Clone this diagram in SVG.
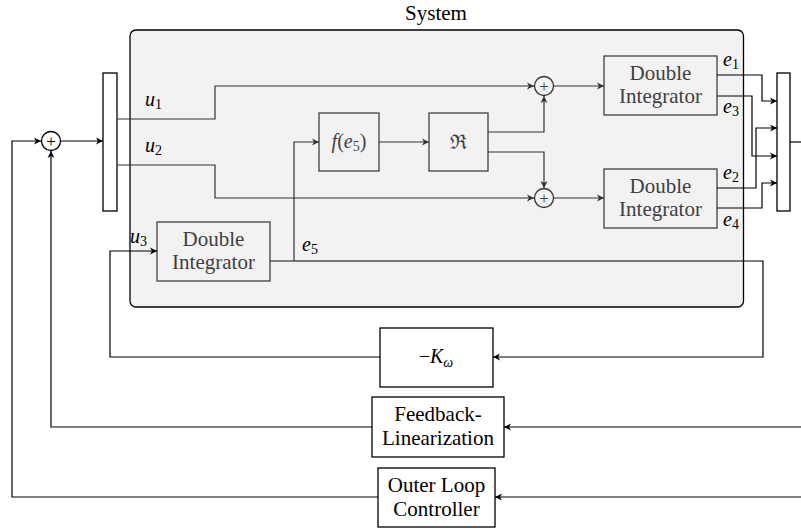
<svg xmlns="http://www.w3.org/2000/svg" width="801" height="532" viewBox="0 0 801 532">
<style>
.t{font-family:"Liberation Serif",serif;font-size:21px;fill:#000;text-anchor:middle}
.ti{fill:#404040}
.m{font-family:"Liberation Serif",serif;font-size:20px;font-style:italic;fill:#000}
.mi{fill:#404040}
.s{font-size:14px;font-style:normal}
.box{fill:#fff;stroke:#000;stroke-width:1.3}
.ibox{fill:#f2f2f2;stroke:#404040;stroke-width:1.3}
.w{fill:none;stroke:#000;stroke-width:1.2}
.wi{fill:none;stroke:#333;stroke-width:1.2}
</style>
<defs>
<marker id="a" markerUnits="userSpaceOnUse" markerWidth="10" markerHeight="10" refX="7" refY="5" orient="auto">
<path d="M0,1.5 L7,5 L0,8.5 L2,5 z" fill="#000"/>
</marker>
<marker id="ai" markerUnits="userSpaceOnUse" markerWidth="10" markerHeight="10" refX="7" refY="5" orient="auto">
<path d="M0,1.5 L7,5 L0,8.5 L2,5 z" fill="#333"/>
</marker>
</defs>

<g id="system">
<rect x="130" y="30" width="613.5" height="277" rx="6" fill="#f2f2f2" stroke="#000" stroke-width="1.3"/>
<text class="t" x="436" y="20" style="font-family:'Liberation Serif',serif">System</text>
</g>

<g id="mux-in"><rect class="box" x="103" y="73" width="14" height="138"/></g>
<g id="mux-out"><rect class="box" x="777" y="73" width="13" height="138"/></g>

<g id="sum-left">
<circle cx="51" cy="141" r="9.5" fill="#fff" stroke="#000" stroke-width="1.3"/>
<text class="t" x="51" y="147" style="font-family:'Liberation Serif',serif;font-size:17px">+</text>
</g>
<g id="sum-top">
<circle cx="544" cy="86" r="9.5" fill="#f2f2f2" stroke="#333" stroke-width="1.3"/>
<text class="t ti" x="544" y="92" style="font-family:'Liberation Serif',serif;font-size:17px">+</text>
</g>
<g id="sum-bottom">
<circle cx="544" cy="198" r="9.5" fill="#f2f2f2" stroke="#333" stroke-width="1.3"/>
<text class="t ti" x="544" y="204" style="font-family:'Liberation Serif',serif;font-size:17px">+</text>
</g>

<g id="di-top">
<rect class="ibox" x="604" y="56" width="113" height="59"/>
<text class="t ti" x="660.5" y="80" style="font-family:'Liberation Serif',serif">Double</text>
<text class="t ti" x="660.5" y="103" style="font-family:'Liberation Serif',serif">Integrator</text>
</g>
<g id="di-bottom">
<rect class="ibox" x="604" y="169" width="113" height="59"/>
<text class="t ti" x="660.5" y="193" style="font-family:'Liberation Serif',serif">Double</text>
<text class="t ti" x="660.5" y="216" style="font-family:'Liberation Serif',serif">Integrator</text>
</g>
<g id="di-left">
<rect class="ibox" x="157" y="222" width="113" height="59"/>
<text class="t ti" x="213.5" y="246" style="font-family:'Liberation Serif',serif">Double</text>
<text class="t ti" x="213.5" y="269" style="font-family:'Liberation Serif',serif">Integrator</text>
</g>
<g id="f-e5">
<rect class="ibox" x="319" y="113" width="60" height="58"/>
<text class="m mi" x="349" y="148" text-anchor="middle" style="font-family:'Liberation Serif',serif">f<tspan style="font-style:normal">(</tspan>e<tspan class="s" dy="3">5</tspan><tspan style="font-style:normal" dy="-3">)</tspan></text>
</g>
<g id="re">
<rect class="ibox" x="429" y="113" width="59" height="58"/>
<text class="t ti" x="458.5" y="149" style="font-family:'Liberation Serif',serif;font-size:20px">ℜ</text>
</g>
<g id="k-omega">
<rect class="box" x="380" y="328" width="113" height="59"/>
<text class="m" x="436" y="363" text-anchor="middle" style="font-family:'Liberation Serif',serif"><tspan style="font-style:normal">−</tspan>K<tspan class="s" style="font-style:italic" dy="4">ω</tspan></text>
</g>
<g id="feedback-lin">
<rect class="box" x="372" y="397" width="132" height="60"/>
<text class="t" x="438" y="421" style="font-family:'Liberation Serif',serif">Feedback-</text>
<text class="t" x="438" y="445" style="font-family:'Liberation Serif',serif">Linearization</text>
</g>
<g id="outer-loop">
<rect class="box" x="378" y="468" width="117" height="59"/>
<text class="t" x="436.5" y="492" style="font-family:'Liberation Serif',serif">Outer Loop</text>
<text class="t" x="436.5" y="516" style="font-family:'Liberation Serif',serif">Controller</text>
</g>

<g id="connectors">
<path class="w" d="M61,141 H103" marker-end="url(#a)"/>
<path class="wi" d="M117,119 H215 V86 H534" marker-end="url(#ai)"/>
<path class="wi" d="M117,165 H215 V198 H534" marker-end="url(#ai)"/>
<path class="wi" d="M554,86 H604" marker-end="url(#ai)"/>
<path class="wi" d="M554,198 H604" marker-end="url(#ai)"/>
<path class="wi" d="M379,142 H429" marker-end="url(#ai)"/>
<path class="wi" d="M488,132 H544 V96" marker-end="url(#ai)"/>
<path class="wi" d="M488,152 H544 V188" marker-end="url(#ai)"/>
<path class="wi" d="M270,261 H294"/>
<path class="wi" d="M294,261 V142 H319" marker-end="url(#ai)"/>
<path class="w" d="M294,261 H763 V357 H493" marker-end="url(#a)"/>
<path class="w" d="M380,357 H110 V251 H157" marker-end="url(#a)"/>
<path class="w" d="M717,75 H762 V101 H777" marker-end="url(#a)"/>
<path class="w" d="M717,96 H752 V156 H777" marker-end="url(#a)"/>
<path class="w" d="M717,188 H756 V128 H777" marker-end="url(#a)"/>
<path class="w" d="M717,208 H762 V183 H777" marker-end="url(#a)"/>
<path class="w" d="M790,142 H801"/>
<path class="w" d="M801,427 H504" marker-end="url(#a)"/>
<path class="w" d="M372,427 H51 V151" marker-end="url(#a)"/>
<path class="w" d="M801,497 H495" marker-end="url(#a)"/>
<path class="w" d="M378,497 H12 V141 H41" marker-end="url(#a)"/>
</g>

<g id="labels">
<text class="m" x="145" y="106" style="font-family:'Liberation Serif',serif">u<tspan class="s" dy="3">1</tspan></text>
<text class="m" x="145" y="152" style="font-family:'Liberation Serif',serif">u<tspan class="s" dy="3">2</tspan></text>
<text class="m" x="130" y="243" style="font-family:'Liberation Serif',serif">u<tspan class="s" dy="3">3</tspan></text>
<text class="m" x="302" y="251" style="font-family:'Liberation Serif',serif">e<tspan class="s" dy="3">5</tspan></text>
<text class="m" x="723" y="66" style="font-family:'Liberation Serif',serif">e<tspan class="s" dy="3">1</tspan></text>
<text class="m" x="723" y="113" style="font-family:'Liberation Serif',serif">e<tspan class="s" dy="3">3</tspan></text>
<text class="m" x="723" y="179" style="font-family:'Liberation Serif',serif">e<tspan class="s" dy="3">2</tspan></text>
<text class="m" x="723" y="226" style="font-family:'Liberation Serif',serif">e<tspan class="s" dy="3">4</tspan></text>
</g>
</svg>
